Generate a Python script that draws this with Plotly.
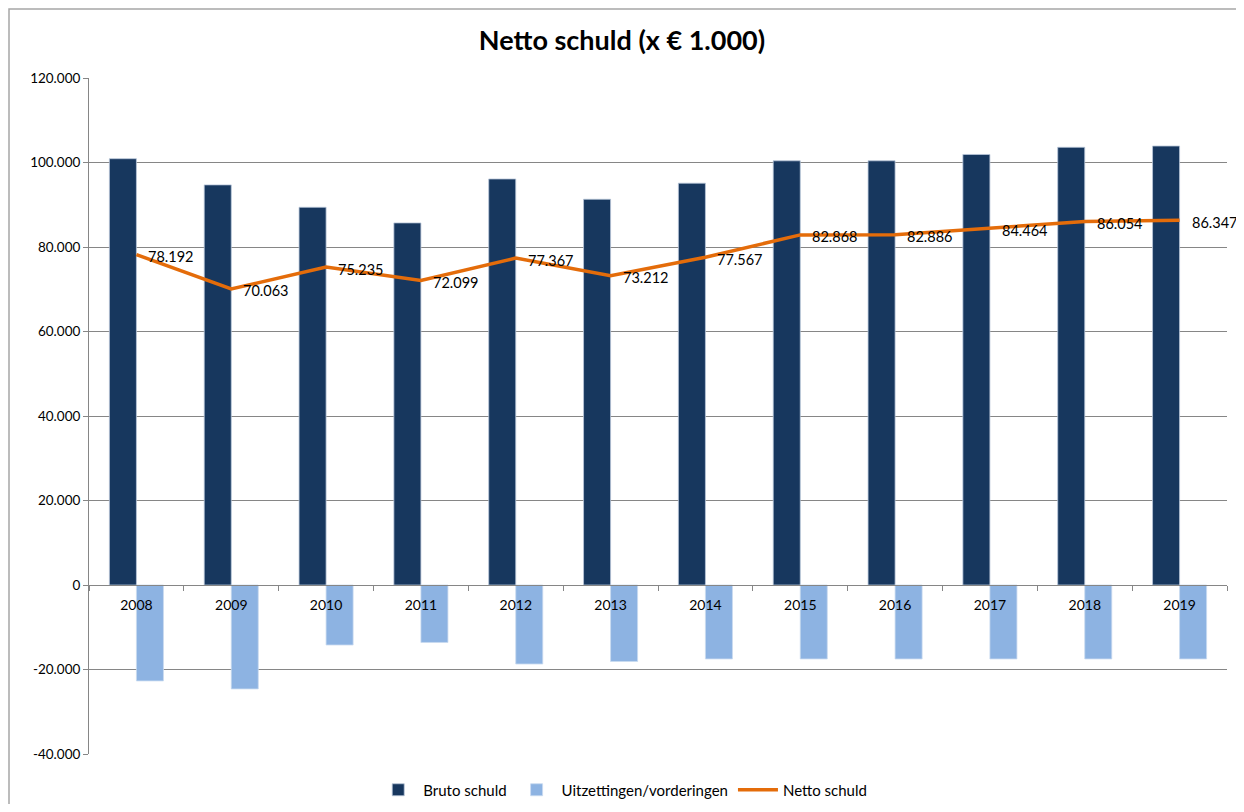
import plotly.graph_objects as go

# data, x € 1.000
years = ["2008", "2009", "2010", "2011", "2012", "2013",
         "2014", "2015", "2016", "2017", "2018", "2019"]
bruto_schuld = [100900, 94700, 89400, 85700, 96100, 91300,
                95100, 100400, 100400, 101900, 103600, 103900]
uitzettingen = [-22700, -24600, -14200, -13600, -18700, -18100,
                -17500, -17500, -17500, -17500, -17500, -17500]
netto_schuld = [78192, 70063, 75235, 72099, 77367, 73212,
                77567, 82868, 82886, 84464, 86054, 86347]
y_ticks = [-40000, -20000, 0, 20000, 40000, 60000, 80000, 100000, 120000]
y_tick_labels = ["-40.000", "-20.000", "0", "20.000", "40.000",
                 "60.000", "80.000", "100.000", "120.000"]

FONT = "Lato, 'Open Sans', sans-serif"

fig = go.Figure()
fig.add_trace(go.Bar(
    x=years, y=bruto_schuld, name="Bruto schuld",
    marker=dict(color="#17375E", line=dict(color="#B9C7D9", width=0.8)),
))
fig.add_trace(go.Bar(
    x=years, y=uitzettingen, name="Uitzettingen/vorderingen",
    marker=dict(color="#8DB3E2", line=dict(color="#C9DAF0", width=0.8)),
))
fig.add_trace(go.Scatter(
    x=years, y=netto_schuld, name="Netto schuld",
    mode="lines", line=dict(color="#E46C0A", width=3.5),
))

# data labels next to the line points (x given as category index)
for i, val in enumerate(netto_schuld):
    fig.add_annotation(
        x=i, y=val, xref="x", yref="y",
        text=f"{val:,}".replace(",", "."),
        showarrow=False, xanchor="left", yanchor="middle",
        xshift=10, yshift=-2,
        font=dict(size=14.5, color="#000000", family=FONT),
    )

# page body adds 8px margin all round, so keep figure inside the window
fig.update_layout(
    width=1228, height=796,
    separators=",.",
    paper_bgcolor="white", plot_bgcolor="white",
    margin=dict(l=81, r=9, t=70, b=50),
    title=dict(text="<b>Netto schuld (x € 1.000)</b>", x=0.5, xanchor="center",
               y=0.959, yanchor="middle",
               font=dict(size=27, color="#000000", family=FONT)),
    font=dict(family=FONT, size=13, color="#000000"),
    barmode="group", bargap=0.43, bargroupgap=0,
    legend=dict(orientation="h", x=0.469, xanchor="center",
                yref="container", y=14 / 796, yanchor="middle",
                font=dict(size=15), itemwidth=40, traceorder="normal"),
    shapes=[dict(type="rect", xref="paper", yref="paper",
                 x0=-80 / 1138, x1=1.1, y0=-0.2, y1=1 + 69 / 676,
                 line=dict(color="#A6A6A6", width=1.5), layer="below")],
)
fig.update_xaxes(
    type="category", range=[-0.5, 11.5], anchor="free", position=0.25,
    automargin=False,
    showline=True, linecolor="#868686", linewidth=1,
    ticks="outside", tickson="boundaries", ticklen=5, tickcolor="#868686",
    showgrid=False, tickfont=dict(size=14), ticklabelstandoff=7,
)
fig.update_yaxes(
    range=[-40000, 120000], tickvals=y_ticks, ticktext=y_tick_labels,
    automargin=False,
    showline=True, linecolor="#868686", linewidth=1,
    ticks="outside", ticklen=5, tickcolor="#868686",
    showgrid=True, gridcolor="#868686", gridwidth=1, zeroline=False,
    tickfont=dict(size=13.5),
)

fig.write_html("out.html")
